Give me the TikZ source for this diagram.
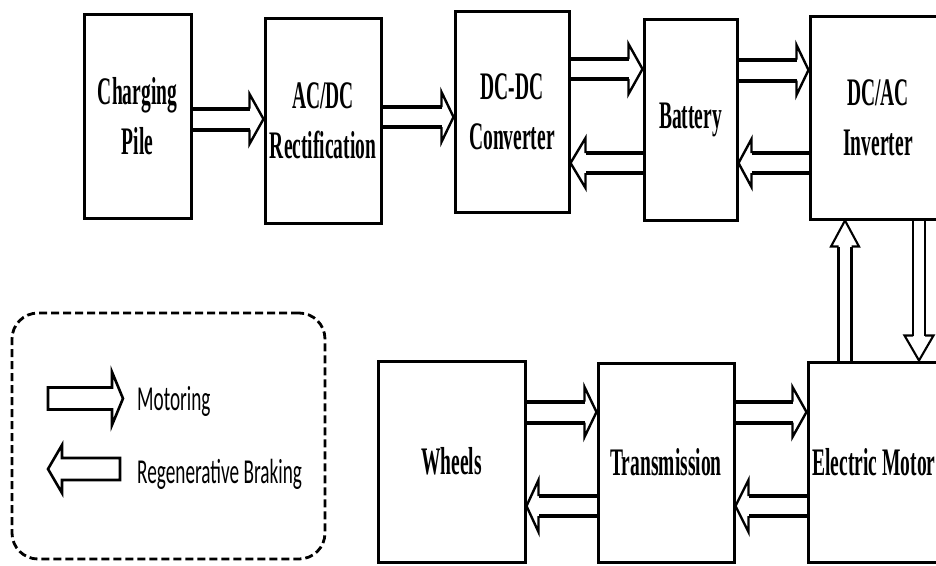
\documentclass[tikz,border=0pt]{standalone}
\usepackage{fontspec}
\newfontfamily\boxfont{Liberation Serif}[FakeStretch=0.5]
\newfontfamily\legfont{Carlito}[FakeStretch=0.55]
\usetikzlibrary{calc}
% #1 shaft style, #2 head style, #3 shaft half width, #4 head half width, #5 head length, #6 start, #7 tip
\newcommand\hollow[7]{%
  \path (#6) coordinate (hS) (#7) coordinate (hT);
  \path ($(hT)!#5!(hS)$) coordinate (hB);
  \draw[#2] ($(hB)!#3!90:(hT)$) -- ($(hB)!#4!90:(hT)$) -- (hT) -- ($(hB)!#4!-90:(hT)$) -- ($(hB)!#3!-90:(hT)$);
  \draw[#1] ($(hS)!#3!90:(hT)$) -- ($(hB)!#3!90:(hT)$) ($(hS)!#3!-90:(hT)$) -- ($(hB)!#3!-90:(hT)$);
}
\tikzset{
  blk/.style={draw, line width=3pt, inner sep=0pt, align=center,
    font=\boxfont\bfseries\fontsize{39}{50}\selectfont},
  hshaft/.style={line width=4pt},
  hhead/.style={line width=2.4pt},
  vshaft/.style={line width=2.3pt},
  vhead/.style={line width=2.1pt},
  legbox/.style={draw, line width=2.8pt, rounded corners=26pt, dash pattern=on 8pt off 4pt, inner sep=0pt},
  legarrow/.style={draw, line width=2.6pt, line join=miter},
  legtext/.style={inner sep=0pt, font=\legfont\fontsize{35}{40}\selectfont}
}
\begin{document}
\begin{tikzpicture}[x=1pt,y=-1pt]
\useasboundingbox (0,0) rectangle (936,565);
\clip (0,0) rectangle (936,565);
\fill[white] (0,0) rectangle (936,565);
% top row
\node[blk, minimum width=107pt, minimum height=204pt] (pile) at (137.5,116) {Charging\\Pile};
\node[blk, minimum width=116pt, minimum height=205pt] (acdc) at (323,120.5) {AC/DC\\Rectification};
\node[blk, minimum width=114pt, minimum height=201pt] (dcdc) at (512,111.5) {DC-DC\\Converter};
\node[blk, minimum width=93pt, minimum height=201pt] (batt) at (690.5,119.5) {Battery};
\node[blk, minimum width=136pt, minimum height=203pt] (inv) at (878,117.5) {DC/AC\\Inverter};
% bottom row
\node[blk, minimum width=147pt, minimum height=201pt] (wheels) at (451.5,461.5) {Wheels};
\node[blk, minimum width=136pt, minimum height=199pt] (trans) at (666,462.5) {Transmission};
\node[blk, minimum width=140pt, minimum height=200pt] (motor) at (878,462) {Electric Motor\hspace*{8pt}};
% arrows top row
\hollow{hshaft}{hhead}{10.5pt}{25pt}{14pt}{pile.east |- 0,119}{acdc.west |- 0,119}
\hollow{hshaft}{hhead}{10pt}{25pt}{12pt}{acdc.east |- 0,117}{dcdc.west |- 0,117}
\hollow{hshaft}{hhead}{10pt}{25pt}{14pt}{dcdc.east |- 0,69}{batt.west |- 0,69}
\hollow{hshaft}{hhead}{10pt}{25pt}{15pt}{batt.west |- 0,163}{dcdc.east |- 0,163}
\hollow{hshaft}{hhead}{10.5pt}{25pt}{12pt}{batt.east |- 0,70}{inv.west |- 0,70}
\hollow{hshaft}{hhead}{10pt}{24pt}{13pt}{inv.west |- 0,163}{batt.east |- 0,163}
% vertical arrows
\hollow{vshaft}{vhead}{6.5pt}{14pt}{26pt}{motor.north -| 845,0}{inv.south -| 845,0}
\hollow{vshaft}{vhead}{6pt}{14.5pt}{25pt}{inv.south -| 919,0}{motor.north -| 919,0}
% arrows bottom row
\hollow{hshaft}{hhead}{10.5pt}{25pt}{12pt}{wheels.east |- 0,412}{trans.west |- 0,412}
\hollow{hshaft}{hhead}{10pt}{26pt}{12pt}{trans.west |- 0,506}{wheels.east |- 0,506}
\hollow{hshaft}{hhead}{10.5pt}{25pt}{14pt}{trans.east |- 0,412}{motor.west |- 0,412}
\hollow{hshaft}{hhead}{10pt}{26pt}{13pt}{motor.west |- 0,506}{trans.east |- 0,506}
% legend
\node[legbox, minimum width=313pt, minimum height=246pt] (legend) at (168.5,436) {};
\draw[legarrow] (48,387.5) -- (112,387.5) -- (112,372) -- (123,398.5) -- (112,425) -- (112,409.5) -- (48,409.5) -- cycle;
\draw[legarrow] (120,458) -- (62,458) -- (62,445) -- (48,469) -- (62,493) -- (62,480) -- (120,480) -- cycle;
\node[legtext, anchor=base west] (mot) at (137,410) {Motoring};
\node[legtext, anchor=base west] (reg) at (137,483) {Regenerative Braking};
\end{tikzpicture}
\end{document}
